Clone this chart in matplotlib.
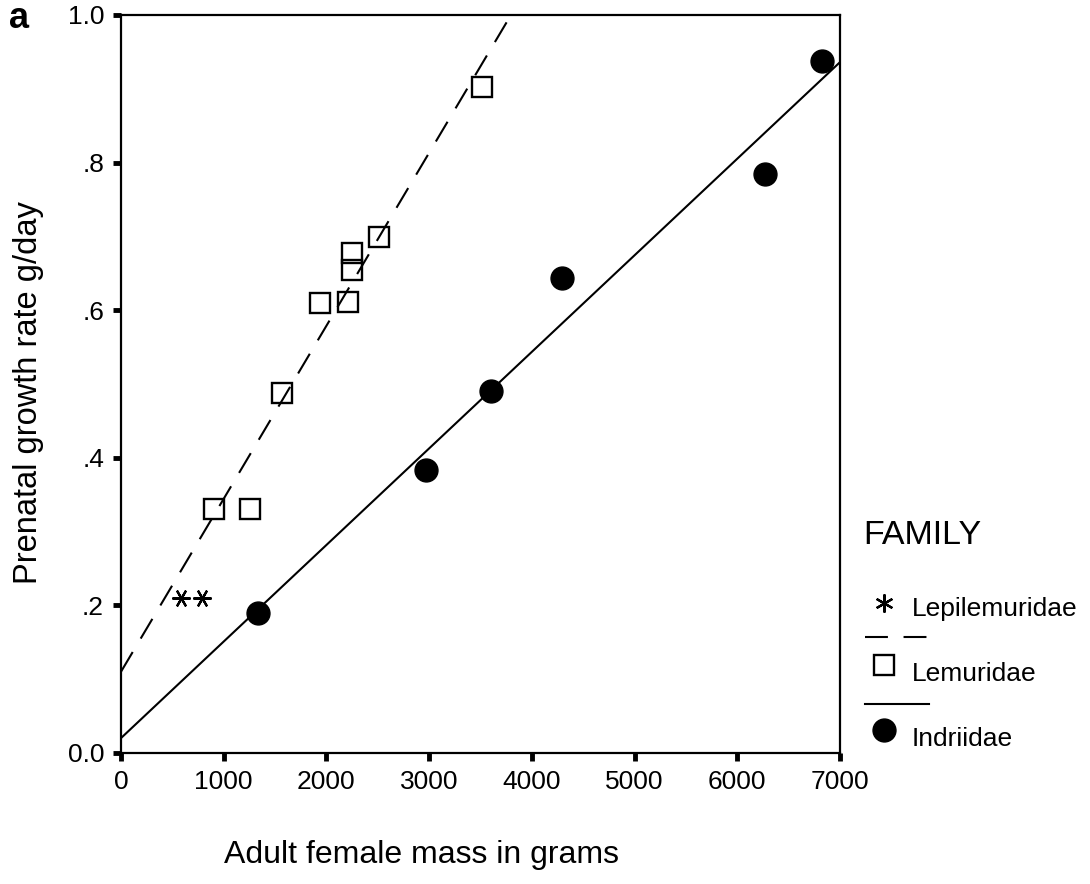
import numpy as np
import matplotlib.pyplot as plt

plt.rcParams['font.family'] = ['Liberation Sans', 'DejaVu Sans']

# Lepilemuridae
lepi_mass = [584, 789]
lepi_rate = [0.210, 0.210]

# Lemuridae
lemur_mass = [906, 1256, 1565, 1938, 2210, 2249, 2249, 2512, 3515]
lemur_rate = [0.331, 0.331, 0.488, 0.610, 0.611, 0.677, 0.655, 0.699, 0.902]

# Indriidae
indri_mass = [1332, 2970, 3603, 4294, 6266, 6823]
indri_rate = [0.190, 0.384, 0.490, 0.644, 0.784, 0.938]

x_ticks = [0, 1000, 2000, 3000, 4000, 5000, 6000, 7000]
y_ticks = [0.0, 0.2, 0.4, 0.6, 0.8, 1.0]
y_ticklabels = ['0.0', '.2', '.4', '.6', '.8', '1.0']

W, H = 1090, 884
fig = plt.figure(figsize=(W / 100, H / 100), dpi=100)
ax = fig.add_axes([121 / W, 1 - 753 / H, (840 - 121) / W, (753 - 15) / H])

# fit lines (linear regression per family)
xs = np.array([0, 7000])
b_lem = np.polyfit(lemur_mass, lemur_rate, 1)
b_ind = np.polyfit(indri_mass, indri_rate, 1)
ax.plot(xs, np.polyval(b_lem, xs), color='black', lw=1.5, ls=(0, (11, 7.5)), zorder=2)
ax.plot(xs, np.polyval(b_ind, xs), color='black', lw=1.5, zorder=2)

ax.plot(lepi_mass, lepi_rate, ls='none', marker=(6, 2, 90), ms=13, mew=1.6,
        color='black', zorder=3)
ax.plot(lemur_mass, lemur_rate, ls='none', marker='s', ms=14.5, mfc='none',
        mec='black', mew=1.7, zorder=3)
ax.plot(indri_mass, indri_rate, ls='none', marker='o', ms=16.5, color='black', zorder=3)

ax.set_xlim(0, 7000)
ax.set_ylim(0, 1.0)
ax.set_xticks(x_ticks)
ax.set_xticklabels([str(t) for t in x_ticks])
ax.set_yticks(y_ticks)
ax.set_yticklabels(y_ticklabels)
ax.tick_params(direction='out', length=5.7, width=3.5, labelsize=19, pad=6.5)
for s in ax.spines.values():
    s.set_linewidth(1.6)

fig.text(29 / W, 1 - 393 / H, 'Prenatal growth rate g/day', rotation=90,
         ha='center', va='center', fontsize=23.5)
fig.text(422 / W, 1 - 855 / H, 'Adult female mass in grams',
         ha='center', va='center', fontsize=23)
fig.text(9 / W, 1 - 28 / H, 'a', fontsize=26, fontweight='bold', ha='left', va='baseline')

# legend, drawn in figure pixel space
lax = fig.add_axes([0, 0, 1, 1])
lax.set_xlim(0, W)
lax.set_ylim(H, 0)
lax.axis('off')
lax.text(863, 544, 'FAMILY', fontsize=24.5, va='baseline', ha='left')
lax.plot([884], [603], ls='none', marker=(6, 2, 0), ms=13, mew=1.6, color='black')
lax.text(912, 616, 'Lepilemuridae', fontsize=19, va='baseline', ha='left')
lax.plot([865, 929], [637, 637], color='black', lw=1.5, ls=(0, (11, 7.5)))
lax.plot([884], [665], ls='none', marker='s', ms=14.5, mfc='none', mec='black', mew=1.7)
lax.text(912, 681, 'Lemuridae', fontsize=19, va='baseline', ha='left')
lax.plot([865, 929], [704, 704], color='black', lw=1.5)
lax.plot([884], [730], ls='none', marker='o', ms=16.5, color='black')
lax.text(912, 746, 'Indriidae', fontsize=19, va='baseline', ha='left')

fig.savefig('out.png', dpi=100)
